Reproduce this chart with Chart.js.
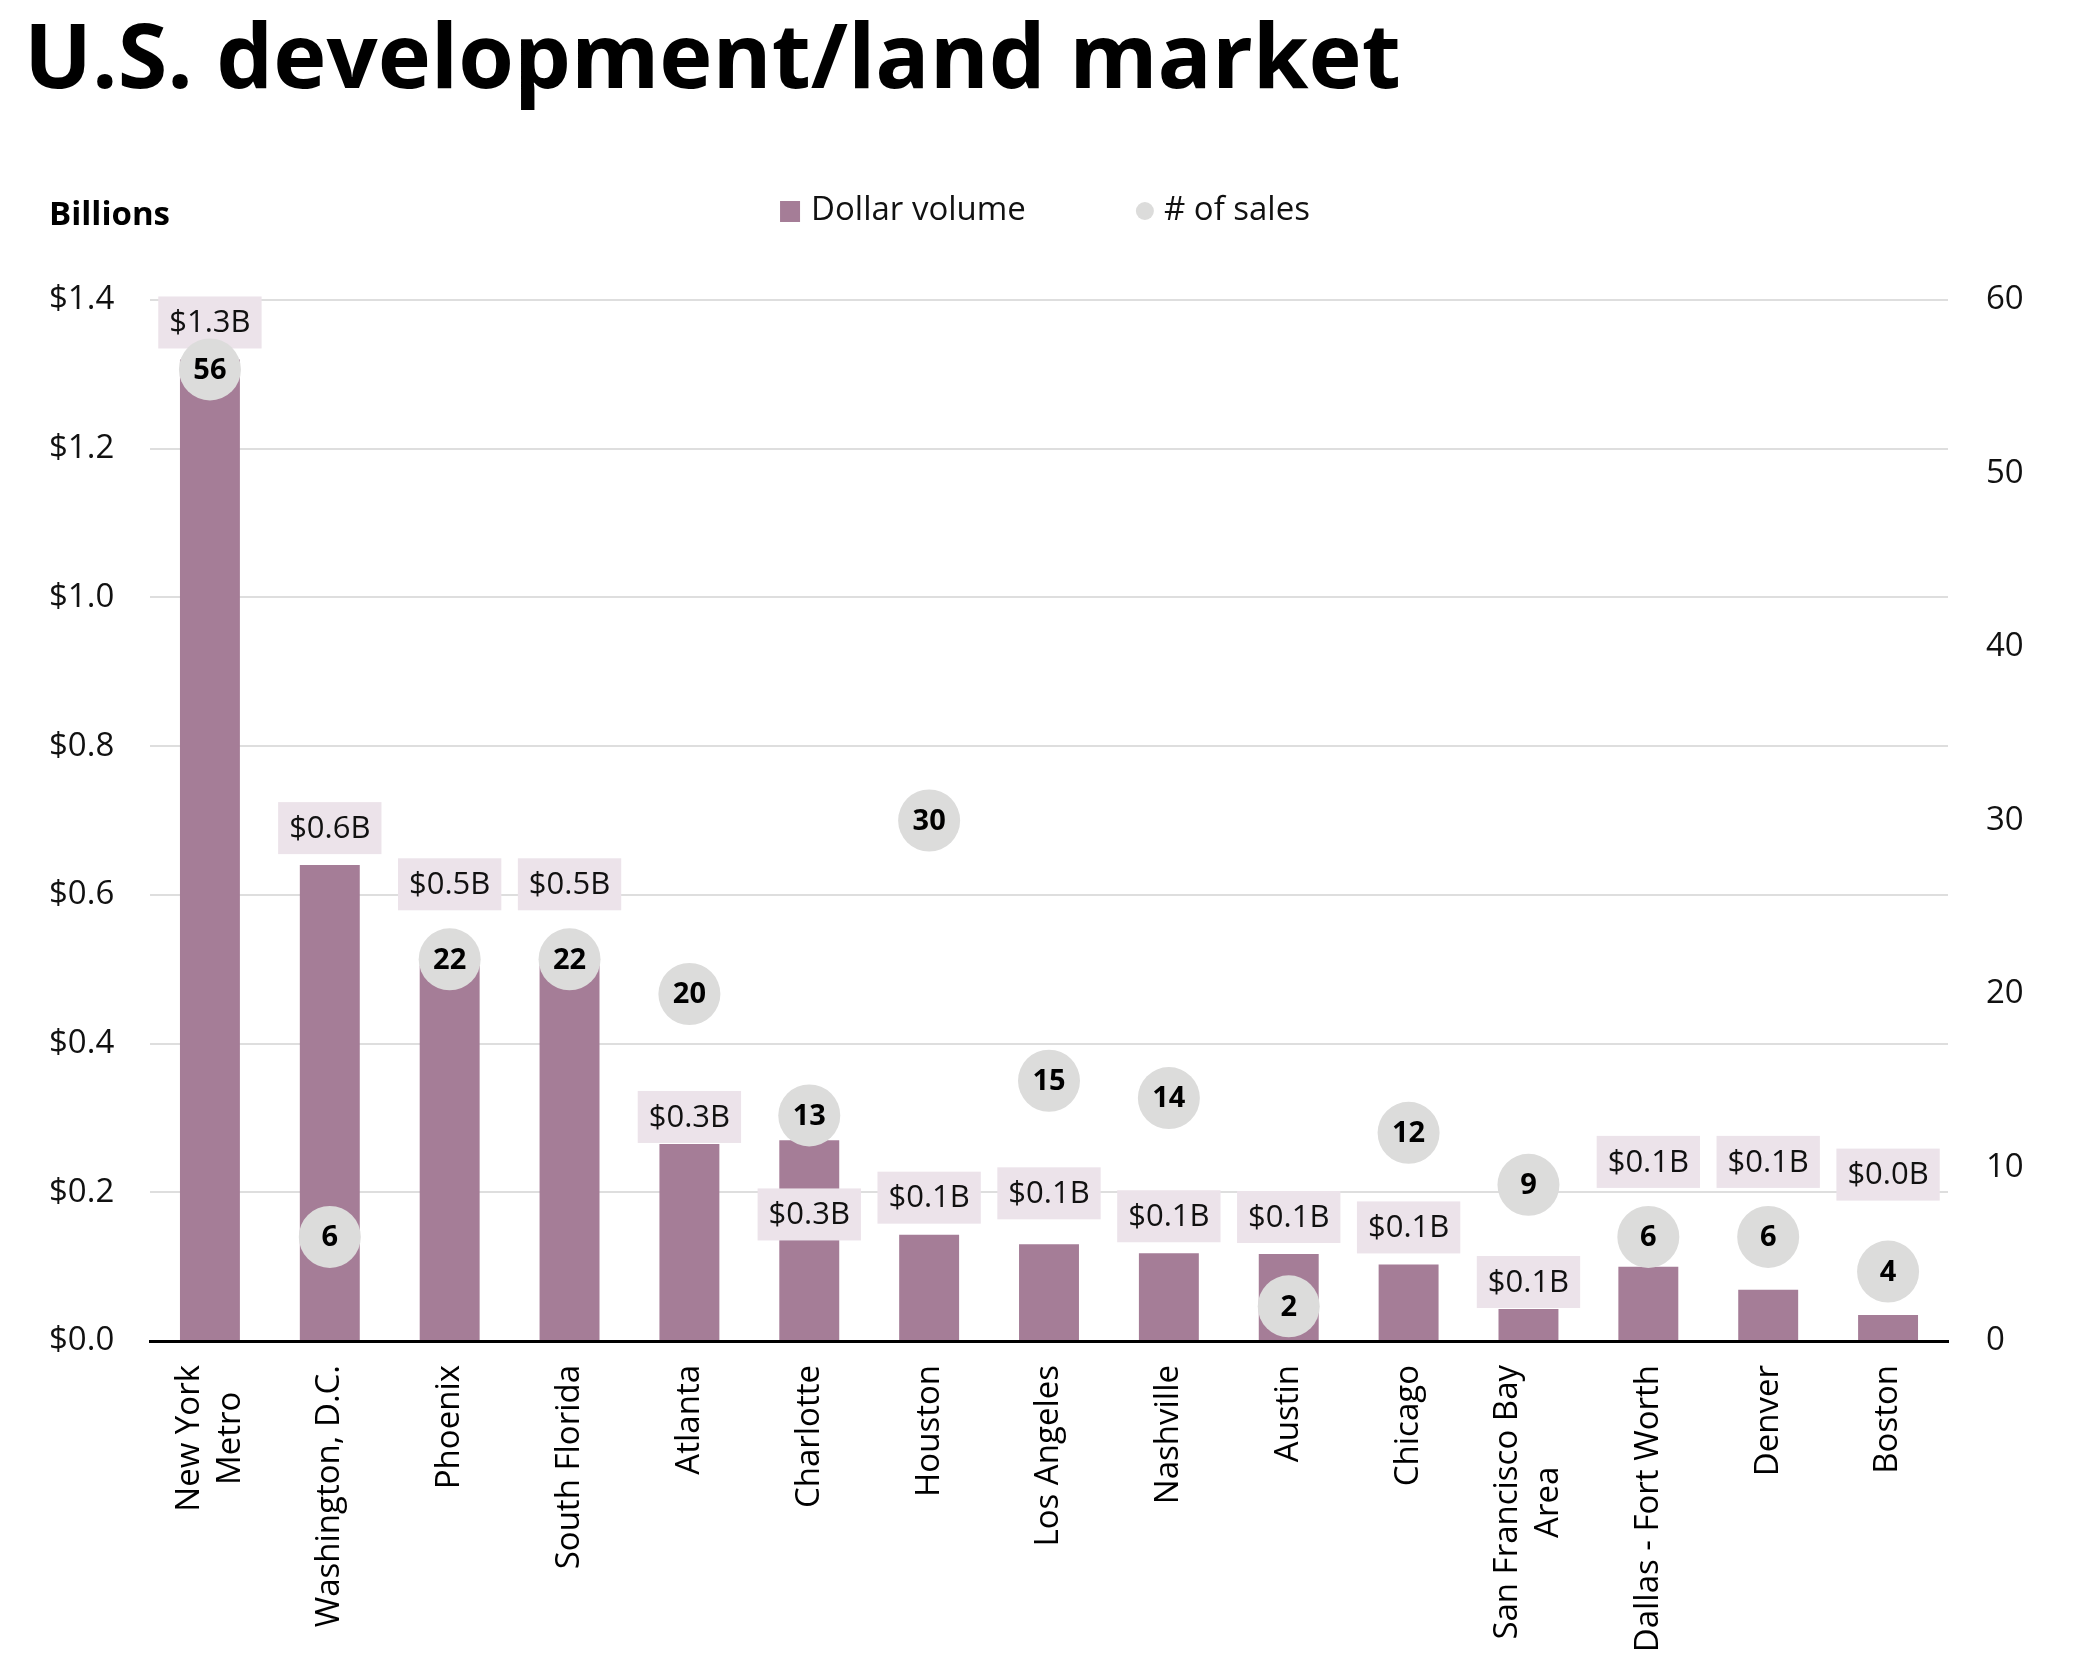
<!DOCTYPE html>
<html>
<head>
<meta charset="utf-8">
<script src="https://cdn.jsdelivr.net/npm/chart.js@4"></script>
<style>
  html, body { margin: 0; padding: 0; background: #fff; }
</style>
</head>
<body>
<canvas id="chart" width="2084" height="1677"></canvas>
<script>
const markets = [
  ['New York', 'Metro'], 'Washington, D.C.', 'Phoenix', 'South Florida', 'Atlanta',
  'Charlotte', 'Houston', 'Los Angeles', 'Nashville', 'Austin', 'Chicago',
  ['San Francisco Bay', 'Area'], 'Dallas - Fort Worth', 'Denver', 'Boston'
];
// billions of dollars
const dollarVolume = [1.32, 0.64, 0.505, 0.505, 0.265, 0.27, 0.143, 0.13, 0.118, 0.117, 0.103, 0.043, 0.1, 0.069, 0.035];
const volumeLabels = ['$1.3B', '$0.6B', '$0.5B', '$0.5B', '$0.3B', '$0.3B', '$0.1B', '$0.1B', '$0.1B', '$0.1B', '$0.1B', '$0.1B', '$0.1B', '$0.1B', '$0.0B'];
const salesCount = [56, 6, 22, 22, 20, 13, 30, 15, 14, 2, 12, 9, 6, 6, 4];
const volumeTicks = [0, 0.2, 0.4, 0.6, 0.8, 1.0, 1.2, 1.4];
const salesTicks = [0, 10, 20, 30, 40, 50, 60];

// where each value box sits, relative to its bar or its dot
const labelPlacement = ['bar', 'bar', 'dot', 'dot', 'touch', 'under', 'bar', 'lift', 'bar', 'bar', 'bar', 'touch', 'dot', 'dot', 'dotHigh'];

const barColor = '#a57d97';
const dotColor = '#dcdcdb';
const boxColor = '#ece3ea';
const font = '"Open Sans", sans-serif';

Chart.defaults.font.family = font;
Chart.defaults.color = '#111';

// title, axis unit and legend
const header = {
  id: 'header',
  afterDraw(chart) {
    const ctx = chart.ctx;
    ctx.save();
    ctx.fillStyle = '#000';
    ctx.textAlign = 'left';
    ctx.textBaseline = 'alphabetic';
    ctx.font = 'bold 90px ' + font;
    ctx.fillText('U.S. development/land market', 24, 88);

    ctx.font = 'bold 33px ' + font;
    ctx.fillText('Billions', 49, 225);

    ctx.font = '33px ' + font;
    const names = chart.data.datasets.map(d => d.label);
    const w1 = ctx.measureText(names[0]).width;
    const w2 = ctx.measureText(names[1]).width;
    const total = 20 + 11 + w1 + 112 + 18 + 10 + w2;
    let x = 1046 - total / 2;
    const y = 211;
    ctx.fillStyle = barColor;
    ctx.fillRect(x, y - 10, 20, 21);
    ctx.fillStyle = '#111';
    ctx.textBaseline = 'middle';
    ctx.fillText(names[0], x + 31, y);
    x += 31 + w1 + 110;
    ctx.fillStyle = dotColor;
    ctx.beginPath();
    ctx.arc(x + 9, y, 9, 0, Math.PI * 2);
    ctx.fill();
    ctx.fillStyle = '#111';
    ctx.fillText(names[1], x + 28, y);
    ctx.restore();
  }
};

// category names, turned upright, each line centred on the others
const xLabels = {
  id: 'xLabels',
  afterDraw(chart) {
    const scale = chart.scales.x;
    const ctx = chart.ctx;
    const lineH = 41;
    ctx.save();
    ctx.font = '33px ' + font;
    ctx.fillStyle = '#000';
    ctx.textAlign = 'center';
    ctx.textBaseline = 'middle';
    chart.data.labels.forEach((label, i) => {
      const lines = [].concat(label);
      const widest = Math.max(...lines.map(l => ctx.measureText(l).width));
      const x = scale.getPixelForTick(i);
      ctx.save();
      ctx.translate(x, scale.top + 24 + widest / 2);
      ctx.rotate(-Math.PI / 2);
      lines.forEach((line, j) => {
        ctx.fillText(line, 0, (j - (lines.length - 1) / 2) * lineH);
      });
      ctx.restore();
    });
    ctx.restore();
  }
};

// value boxes go on top of the bars but under the dots
const valueBoxes = {
  id: 'valueBoxes',
  afterDatasetDraw(chart, args) {
    if (args.index !== 0) return;
    const ctx = chart.ctx;
    const bars = chart.getDatasetMeta(0).data;
    const dots = chart.getDatasetMeta(1).data;
    const boxH = 52;
    ctx.save();
    ctx.font = '31px ' + font;
    ctx.textAlign = 'center';
    ctx.textBaseline = 'middle';
    bars.forEach((bar, i) => {
      const r = dots[i].options.radius;
      const place = labelPlacement[i];
      let bottom;
      if (place === 'dot') bottom = dots[i].y - r - 18;
      else if (place === 'dotHigh') bottom = dots[i].y - r - 40;
      else if (place === 'under') bottom = dots[i].y + r + 42 + boxH;
      else if (place === 'touch') bottom = bar.y - 1;
      else if (place === 'lift') bottom = bar.y - 25;
      else bottom = bar.y - 11;
      const text = volumeLabels[i];
      const w = ctx.measureText(text).width + 22;
      ctx.fillStyle = boxColor;
      ctx.fillRect(bar.x - w / 2, bottom - boxH, w, boxH);
      ctx.fillStyle = '#111';
      ctx.fillText(text, bar.x, bottom - boxH / 2 + 1);
    });
    ctx.restore();
  },
  afterDatasetsDraw(chart) {
    const ctx = chart.ctx;
    const dots = chart.getDatasetMeta(1).data;
    ctx.save();
    ctx.font = 'bold 29px ' + font;
    ctx.fillStyle = '#000';
    ctx.textAlign = 'center';
    ctx.textBaseline = 'middle';
    dots.forEach((dot, i) => {
      ctx.fillText(String(salesCount[i]), dot.x, dot.y + 1);
    });
    ctx.restore();
  }
};

new Chart(document.getElementById('chart'), {
  type: 'bar',
  data: {
    labels: markets,
    datasets: [
      {
        label: 'Dollar volume',
        data: dollarVolume,
        backgroundColor: barColor,
        barPercentage: 0.5,
        categoryPercentage: 1.0,
        yAxisID: 'y',
        order: 2
      },
      {
        type: 'line',
        label: '# of sales',
        data: salesCount,
        showLine: false,
        pointRadius: 31,
        pointHoverRadius: 31,
        pointBackgroundColor: dotColor,
        pointBorderWidth: 0,
        yAxisID: 'y1',
        order: 1
      }
    ]
  },
  options: {
    responsive: false,
    animation: false,
    devicePixelRatio: 1,
    layout: { padding: { top: 300, left: 49, right: 0, bottom: 0 } },
    plugins: {
      legend: { display: false },
      title: { display: false },
      tooltip: { enabled: false }
    },
    scales: {
      x: {
        grid: { display: false },
        border: { display: true, color: '#000', width: 3 },
        ticks: { display: false },
        afterFit(scale) { scale.height = 336; }
      },
      y: {
        position: 'left',
        min: volumeTicks[0],
        max: volumeTicks[volumeTicks.length - 1],
        afterBuildTicks(scale) { scale.ticks = volumeTicks.map(v => ({ value: v })); },
        grid: {
          color: c => (c.tick && c.tick.value === 0) ? 'rgba(0,0,0,0)' : '#dedede',
          lineWidth: 2,
          drawTicks: false
        },
        border: { display: false },
        ticks: {
          crossAlign: 'far',
          color: '#111',
          font: { size: 33 },
          callback: v => '$' + Number(v).toFixed(1)
        },
        afterFit(scale) { scale.width = 101; }
      },
      y1: {
        position: 'right',
        min: salesTicks[0],
        max: salesTicks[salesTicks.length - 1],
        afterBuildTicks(scale) { scale.ticks = salesTicks.map(v => ({ value: v })); },
        grid: { display: false, drawTicks: false },
        border: { display: false },
        ticks: {
          color: '#111',
          font: { size: 33 },
          padding: 38
        },
        afterFit(scale) { scale.width = 136; }
      }
    }
  },
  plugins: [header, xLabels, valueBoxes]
});
</script>
</body>
</html>
